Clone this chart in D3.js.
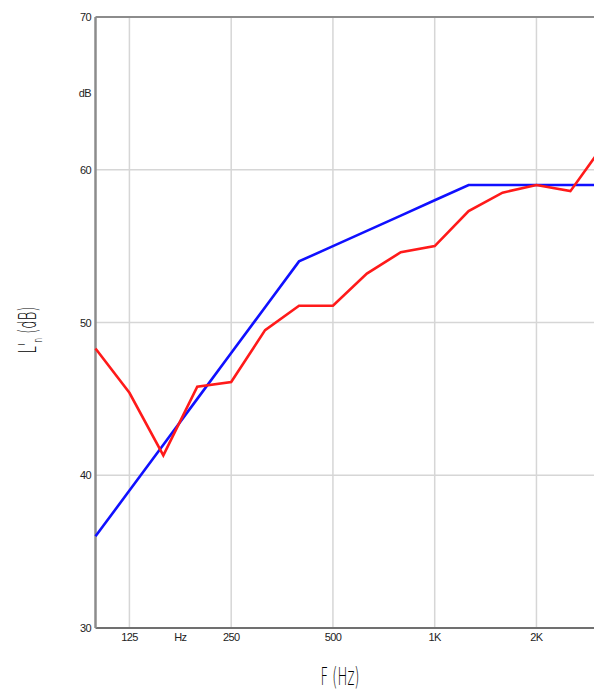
<!DOCTYPE html>
<html>
<head>
<meta charset="utf-8">
<script src="https://cdn.jsdelivr.net/npm/d3@7.9.0/dist/d3.min.js"></script>
<style>
  body { margin: 0; background: #fff; }
  svg { display: block; }
  .tick-label { font-family: "Liberation Sans", Arial, sans-serif; font-size: 11px; fill: #222; letter-spacing: -0.6px; }
  .title { font-family: "DejaVu Sans", sans-serif; font-weight: 200; fill: #000; }
</style>
</head>
<body>
<svg id="chart" width="594" height="691"></svg>
<script>
// third-octave bands (Hz)
const bands = ["100", "125", "160", "200", "250", "315", "400", "500", "630", "800", "1000", "1250", "1600", "2000", "2500", "3150"];
// measured curve (red)
const measured = [48.3, 45.4, 41.3, 45.8, 46.1, 49.5, 51.1, 51.1, 53.2, 54.6, 55.0, 57.3, 58.5, 59.0, 58.6, 61.7];
// shifted reference curve (blue)
const reference = [36, 39, 42, 45, 48, 51, 54, 55, 56, 57, 58, 59, 59, 59, 59, 59];

const xTickBands = ["125", "250", "500", "1000", "2000"];
const xTickLabels = ["125", "250", "500", "1K", "2K"];
const yTicks = [30, 40, 50, 60, 70];
const yUnit = "dB";
const xUnit = "Hz";

const svg = d3.select("#chart");

const plotLeft = 95.5, plotTop = 17, plotBottom = 628;
let x = d3.scalePoint().domain(bands).range([plotLeft, plotLeft + 15 * 33.92]);
let y = d3.scaleLinear().domain([30, 70]).range([plotBottom, plotTop]);
const plotRight = x("3150");

// grid
svg.selectAll(".hgrid")
  .data(yTicks.filter(d => d > 30 && d < 70))
  .join("line")
  .attr("x1", plotLeft).attr("x2", plotRight)
  .attr("y1", d => y(d)).attr("y2", d => y(d))
  .attr("stroke", "#d6d6d6").attr("stroke-width", 1.5);

svg.selectAll(".vgrid")
  .data(xTickBands)
  .join("line")
  .attr("x1", d => x(d)).attr("x2", d => x(d))
  .attr("y1", plotTop).attr("y2", plotBottom)
  .attr("stroke", "#d6d6d6").attr("stroke-width", 1.5);

// frame
svg.append("line").attr("x1", plotLeft).attr("x2", plotRight).attr("y1", plotTop).attr("y2", plotTop)
  .attr("stroke", "#8c8c8c").attr("stroke-width", 2);
svg.append("line").attr("x1", plotLeft).attr("x2", plotRight).attr("y1", plotBottom).attr("y2", plotBottom)
  .attr("stroke", "#707070").attr("stroke-width", 2);
svg.append("line").attr("x1", plotLeft).attr("x2", plotLeft).attr("y1", plotTop).attr("y2", plotBottom)
  .attr("stroke", "#8c8c8c").attr("stroke-width", 2.5);

// y labels
svg.selectAll(".ylab")
  .data(yTicks)
  .join("text")
  .attr("class", "tick-label")
  .attr("x", 91).attr("y", d => y(d) + 4)
  .attr("text-anchor", "end")
  .text(d => d);
svg.append("text").attr("class", "tick-label")
  .attr("x", 91).attr("y", y(65) + 4)
  .attr("text-anchor", "end").text(yUnit);

// x labels
svg.selectAll(".xlab")
  .data(xTickBands)
  .join("text")
  .attr("class", "tick-label")
  .attr("x", d => x(d)).attr("y", 641)
  .attr("text-anchor", "middle")
  .text((d, i) => xTickLabels[i]);
svg.append("text").attr("class", "tick-label")
  .attr("x", (x("160") + x("200")) / 2).attr("y", 641)
  .attr("text-anchor", "middle").text(xUnit);

// curves
const line = d3.line().x((d, i) => x(bands[i])).y(d => y(d));
svg.append("path").datum(reference).attr("d", line)
  .attr("fill", "none").attr("stroke", "#1010ff").attr("stroke-width", 2.6);
svg.append("path").datum(measured).attr("d", line)
  .attr("fill", "none").attr("stroke", "#ff1a1a").attr("stroke-width", 2.6);

// axis titles
svg.append("text").attr("class", "title")
  .attr("transform", "translate(340,685) scale(0.55,1)")
  .attr("text-anchor", "middle")
  .attr("font-size", 24)
  .text("F (Hz)");

const yt = svg.append("text").attr("class", "title")
  .attr("transform", "translate(36,330) rotate(-90) scale(0.55,1)")
  .attr("text-anchor", "middle")
  .attr("font-size", 24);
yt.append("tspan").text("L'");
yt.append("tspan").attr("font-size", 13).attr("dy", 6).text("n");
yt.append("tspan").attr("dy", -6).text(" (dB)");
</script>
</body>
</html>
